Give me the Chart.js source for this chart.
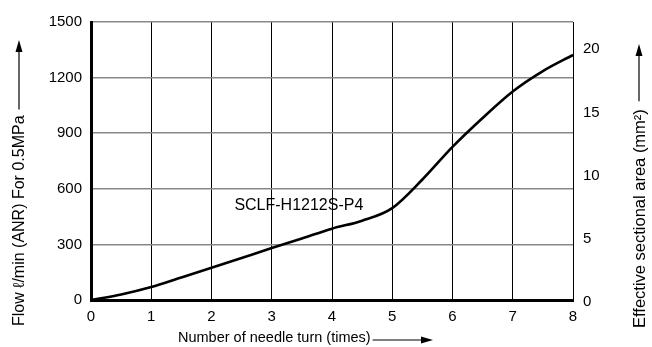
<!DOCTYPE html>
<html>
<head>
<meta charset="utf-8">
<script src="https://cdn.jsdelivr.net/npm/chart.js@4/dist/chart.umd.min.js"></script>
<style>
    html, body { margin: 0; padding: 0; background: #fff; }
    #wrap { width: 652px; height: 347px; }
</style>
</head>
<body>
<div id="wrap"><canvas id="flowChart" width="652" height="347"></canvas></div>
<script>
// Needle turns vs. flow rate
const turns = [0, 0.5, 1, 1.5, 2, 2.5, 3, 3.5, 4, 4.5, 5, 5.5, 6, 6.5, 7, 7.5, 8];
const flow = [0, 30, 70, 122, 174, 227, 280, 332, 385, 428, 496, 650, 826, 982, 1125, 1235, 1322];
const flowTicks = [0, 300, 600, 900, 1200, 1500];
const areaTicks = [0, 5, 10, 15, 20];
const turnTicks = [0, 1, 2, 3, 4, 5, 6, 7, 8];
const modelName = 'SCLF-H1212S-P4';

const FONT = '"Liberation Sans", Arial, sans-serif';

function arrowHead(ctx, x, y, dir) {
    // dir: 'up' or 'right'
    ctx.beginPath();
    if (dir === 'up') {
        ctx.moveTo(x, y);
        ctx.lineTo(x - 3.5, y + 12);
        ctx.lineTo(x + 3.5, y + 12);
    } else {
        ctx.moveTo(x, y);
        ctx.lineTo(x - 12, y - 3.5);
        ctx.lineTo(x - 12, y + 3.5);
    }
    ctx.closePath();
    ctx.fill();
}

// Axis titles with arrows + model label
const titlesPlugin = {
    id: 'titles',
    afterDraw(chart) {
        const ctx = chart.ctx;
        const xs = chart.scales.x;
        const ys = chart.scales.y;
        ctx.save();
        ctx.fillStyle = '#000';
        ctx.strokeStyle = '#000';
        ctx.lineWidth = 1.2;
        ctx.textBaseline = 'middle';

        // bottom title
        ctx.font = '14.5px ' + FONT;
        ctx.textAlign = 'left';
        const bt = 'Number of needle turn (times)';
        const btX = 178, btY = 338;
        ctx.fillText(bt, btX, btY);
        const btEnd = btX + ctx.measureText(bt).width;
        ctx.beginPath();
        ctx.moveTo(btEnd + 2, btY + 2);
        ctx.lineTo(428, btY + 2);
        ctx.stroke();
        arrowHead(ctx, 433, btY + 2, 'right');

        // left title (rotated)
        ctx.font = '16px ' + FONT;
        const lt = 'Flow \u2113/min (ANR) For 0.5MPa';
        ctx.save();
        ctx.translate(20, 326);
        ctx.rotate(-Math.PI / 2);
        ctx.fillText(lt, 0, 0);
        const ltLen = ctx.measureText(lt).width;
        ctx.restore();
        ctx.beginPath();
        ctx.moveTo(19, 326 - ltLen - 6);
        ctx.lineTo(19, 48);
        ctx.stroke();
        arrowHead(ctx, 19, 40, 'up');

        // right title (rotated)
        ctx.font = '16.5px ' + FONT;
        const rt = 'Effective sectional area (mm\u00B2)';
        ctx.save();
        ctx.translate(640, 328);
        ctx.rotate(-Math.PI / 2);
        ctx.fillText(rt, 0, 0);
        const rtLen = ctx.measureText(rt).width;
        ctx.restore();
        ctx.beginPath();
        ctx.moveTo(639, 328 - rtLen - 8);
        ctx.lineTo(639, 52);
        ctx.stroke();
        arrowHead(ctx, 639, 44, 'up');

        // model label next to the curve
        ctx.font = '16px ' + FONT;
        ctx.textAlign = 'center';
        ctx.fillText(modelName, xs.getPixelForValue(3.45), ys.getPixelForValue(507));
        ctx.restore();
    }
};

const ctx = document.getElementById('flowChart').getContext('2d');
new Chart(ctx, {
    type: 'line',
    data: {
        datasets: [{
            data: turns.map((t, i) => ({ x: t, y: flow[i] })),
            borderColor: '#000',
            borderWidth: 2.6,
            pointRadius: 0,
            cubicInterpolationMode: 'monotone',
            fill: false,
            clip: false
        }]
    },
    options: {
        responsive: false,
        animation: false,
        layout: { padding: { top: 22, left: 0, right: 0, bottom: 0 } },
        plugins: {
            legend: { display: false },
            tooltip: { enabled: false }
        },
        scales: {
            x: {
                type: 'linear',
                min: 0,
                max: 8,
                afterBuildTicks: s => { s.ticks = turnTicks.map(v => ({ value: v })); },
                afterFit: s => { s.height = 47; },
                grid: { color: '#000', lineWidth: 1, drawTicks: false },
                border: { display: true, color: '#000', width: 3 },
                ticks: { color: '#000', font: { family: FONT, size: 15 }, padding: 8, maxRotation: 0,
                    callback: v => String(v) }
            },
            y: {
                position: 'left',
                min: 0,
                max: 1500,
                afterBuildTicks: s => { s.ticks = flowTicks.map(v => ({ value: v })); },
                afterFit: s => { s.width = 91; },
                grid: { color: '#888', lineWidth: 1.5, drawTicks: false },
                border: { display: true, color: '#000', width: 3 },
                ticks: { color: '#000', font: { family: FONT, size: 15 }, padding: 9,
                    callback: v => String(v) }
            },
            y2: {
                position: 'right',
                min: 0,
                max: 22,
                afterBuildTicks: s => { s.ticks = areaTicks.map(v => ({ value: v })); },
                afterFit: s => { s.width = 79; },
                grid: { display: false, drawTicks: false },
                border: { display: false },
                ticks: { color: '#000', font: { family: FONT, size: 15 }, padding: 10, labelOffset: 2,
                    callback: v => String(v) }
            }
        }
    },
    plugins: [titlesPlugin]
});
</script>
</body>
</html>
